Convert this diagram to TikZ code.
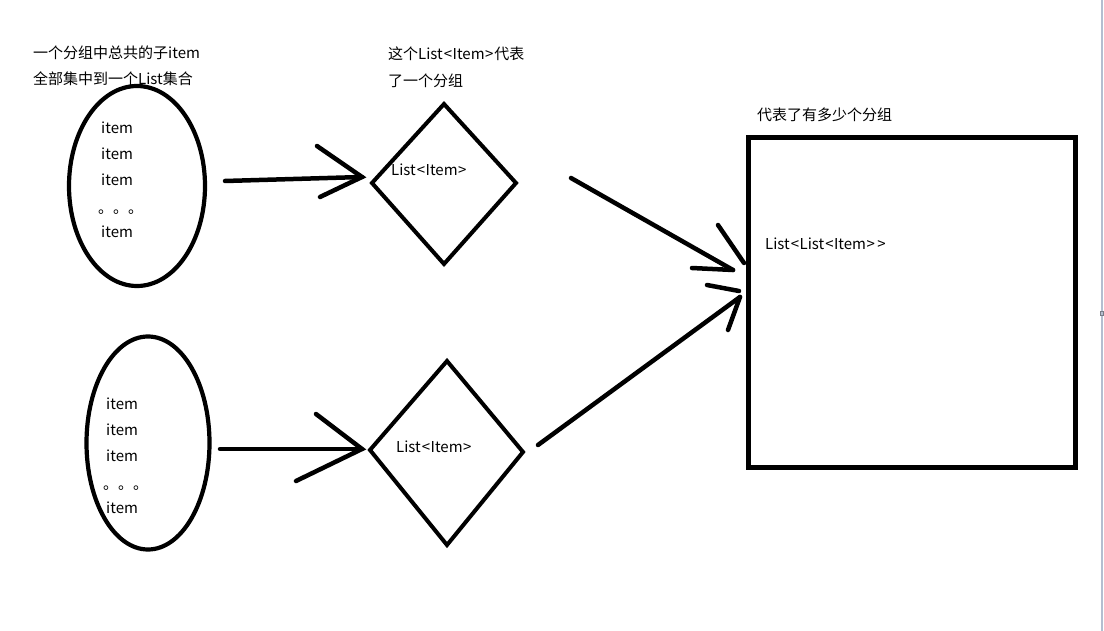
\documentclass[tikz,border=0pt]{standalone}
\usepackage{fontspec}
\setmainfont{Noto Sans CJK SC}[Ligatures=NoCommon]
\usetikzlibrary{shapes.geometric}
\newcommand{\lt}{\kern1pt<\kern0.5pt}
\newcommand{\gt}{\kern0.5pt>\kern1pt}
\tikzset{
  txt/.style={anchor=west, inner sep=0pt, font=\fontsize{15}{17}\selectfont, text=black},
  shapeline/.style={draw=black, line width=4pt, line join=miter},
  arrowline/.style={draw=black, line width=4.5pt, line cap=round},
  ell/.style={ellipse, draw=black, line width=4.2pt, inner sep=0pt},
}
\begin{document}
\begin{tikzpicture}[x=1pt,y=-1pt]
\useasboundingbox (0,0) rectangle (1104,631);
\fill[white] (0,0) rectangle (1104,631);
% canvas edge
\draw[draw={rgb,255:red,180;green,190;blue,208}, line width=2pt] (1102,0) -- (1102,631);
\draw[draw={rgb,255:red,120;green,125;blue,135}, line width=0.8pt] (1100,311) rectangle (1103,315);

% labels
\node[txt] (l1) at (33,53) {一个分组中总共的子item};
\node[txt] (l2) at (33,79) {全部集中到一个List集合};
\node[txt] (l3) at (388,54) {这个List\lt Item\gt 代表};
\node[txt] (l4) at (388,81) {了一个分组};
\node[txt] (l5) at (757,115) {代表了有多少个分组};

% ellipses
\node[ell, minimum width=136pt, minimum height=200pt] (e1) at (137,186) {};
\node[ell, minimum width=123pt, minimum height=213pt] (e2) at (148,443) {};
\node[txt] (a1) at (101,128) {item};
\node[txt] (a2) at (101,154) {item};
\node[txt] (a3) at (101,180) {item};
\node[txt] (a4) at (98,212) {。。。};
\node[txt] (a5) at (101,232) {item};
\node[txt] (b1) at (106,404) {item};
\node[txt] (b2) at (106,430) {item};
\node[txt] (b3) at (106,456) {item};
\node[txt] (b4) at (103,488) {。。。};
\node[txt] (b5) at (106,508) {item};

% diamonds
\coordinate (d1t) at (444,104);
\coordinate (d1r) at (516,183);
\coordinate (d1b) at (444,264);
\coordinate (d1l) at (372,183);
\draw[shapeline] (d1t) -- (d1r) -- (d1b) -- (d1l) -- cycle;
\node[txt] (d1) at (391,170) {List\lt Item\gt};
\coordinate (d2t) at (447,361);
\coordinate (d2r) at (523,452);
\coordinate (d2b) at (447,545);
\coordinate (d2l) at (370,450);
\draw[shapeline] (d2t) -- (d2r) -- (d2b) -- (d2l) -- cycle;
\node[txt] (d2) at (396,447) {List\lt Item\gt};

% big rectangle
\draw[draw=black, line width=5pt] (748,138) rectangle (1075,467);
\node[txt] (r) at (765,244) {List\lt List\lt Item\gt\kern1pt\gt};

% arrow 1
\coordinate (p1s) at (225,181);
\coordinate (p1e) at (362,177);
\coordinate (p1u) at (317,146);
\coordinate (p1d) at (320,197);
\draw[arrowline] (p1s) -- (p1e);
\draw[arrowline] (p1u) -- (p1e) -- (p1d);
% arrow 2
\coordinate (p2s) at (220,449);
\coordinate (p2e) at (362,449);
\coordinate (p2u) at (316,414);
\coordinate (p2d) at (296,481);
\draw[arrowline] (p2s) -- (p2e);
\draw[arrowline] (p2u) -- (p2e) -- (p2d);
% arrow 3
\coordinate (p3s) at (571,178);
\coordinate (p3e) at (733,270);
\coordinate (p3u) at (718,225);
\coordinate (p3ue) at (744,263);
\coordinate (p3d) at (692,268);
\draw[arrowline] (p3s) -- (p3e);
\draw[arrowline] (p3u) -- (p3ue);
\draw[arrowline] (p3d) -- (p3e);
% arrow 4
\coordinate (p4s) at (538,445);
\coordinate (p4e) at (740,297);
\coordinate (p4u) at (707,285);
\coordinate (p4ue) at (739,291);
\coordinate (p4d) at (728,330);
\draw[arrowline] (p4s) -- (p4e);
\draw[arrowline] (p4u) -- (p4ue);
\draw[arrowline] (p4d) -- (p4e);
\end{tikzpicture}
\end{document}
